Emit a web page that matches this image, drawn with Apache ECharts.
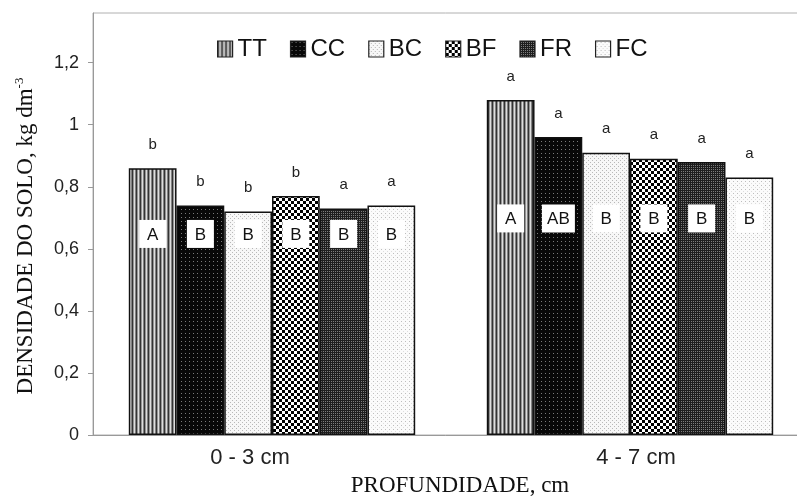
<!DOCTYPE html>
<html>
<head>
<meta charset="utf-8">
<script src="https://cdn.jsdelivr.net/npm/echarts@6/dist/echarts.min.js"></script>
<style>
  html, body { margin: 0; padding: 0; background: #fff; }
  #chart { width: 797px; height: 496px; }
</style>
</head>
<body>
<div id="chart"></div>
<script>
// Soil bulk density by depth and management system
const depths = ['0 - 3 cm', '4 - 7 cm'];
const treatments = ['TT', 'CC', 'BC', 'BF', 'FR', 'FC'];

const densityTT = [0.86, 1.08];
const densityCC = [0.74, 0.96];
const densityBC = [0.72, 0.91];
const densityBF = [0.77, 0.89];
const densityFR = [0.73, 0.88];
const densityFC = [0.74, 0.83];

// Lower-case letters: comparison between depths (per treatment)
const lowerTT = ['b', 'a'];
const lowerCC = ['b', 'a'];
const lowerBC = ['b', 'a'];
const lowerBF = ['b', 'a'];
const lowerFR = ['a', 'a'];
const lowerFC = ['a', 'a'];

// Upper-case letters: comparison between treatments (per depth)
const upper0to3 = ['A', 'B', 'B', 'B', 'B', 'B'];
const upper4to7 = ['A', 'AB', 'B', 'B', 'B', 'B'];

const yTicks = [0, 0.2, 0.4, 0.6, 0.8, 1, 1.2];

const values = [densityTT, densityCC, densityBC, densityBF, densityFR, densityFC];
const lowers = [lowerTT, lowerCC, lowerBC, lowerBF, lowerFR, lowerFC];
const uppers = [upper0to3, upper4to7];

const SANS = '"Liberation Sans", Arial, sans-serif';
const SERIF = '"Liberation Serif", "Times New Roman", serif';

// Small monochrome fill patterns, one per treatment
function tile(w, h, paint) {
  const c = document.createElement('canvas');
  c.width = w; c.height = h;
  const g = c.getContext('2d');
  paint(g);
  return { image: c, repeat: 'repeat' };
}
function px(g, color, pts) {
  g.fillStyle = color;
  pts.forEach(p => g.fillRect(p[0], p[1], p[2] || 1, p[3] || 1));
}
const patterns = [
  // TT: fine vertical stripes
  tile(4, 1, g => {
    px(g, '#333333', [[0, 0]]); px(g, '#959595', [[1, 0]]);
    px(g, '#dddddd', [[2, 0]]); px(g, '#828282', [[3, 0]]);
  }),
  // CC: black with small grey dots
  tile(4, 4, g => {
    px(g, '#080808', [[0, 0, 4, 4]]); px(g, '#7a7a7a', [[1, 1]]);
  }),
  // BC: white with light grey dots
  tile(4, 4, g => {
    px(g, '#f7f7f7', [[0, 0, 4, 4]]); px(g, '#b8b8b8', [[0, 0], [2, 2]]);
  }),
  // BF: black and white checkerboard
  tile(6, 6, g => {
    px(g, '#ffffff', [[0, 0, 6, 6]]); px(g, '#000000', [[0, 0, 3, 3], [3, 3, 3, 3]]);
  }),
  // FR: dark grey fine checker
  tile(2, 2, g => {
    px(g, '#1e1e1e', [[0, 0, 2, 2]]); px(g, '#7c7c7c', [[1, 1]]);
  }),
  // FC: white with sparse grey dots
  tile(4, 4, g => {
    px(g, '#fbfbfb', [[0, 0, 4, 4]]); px(g, '#bdbdbd', [[1, 1]]); px(g, '#dddddd', [[3, 3]]);
  })
];

const BAR_GAP_RATIO = 0.2;   // fraction of a category left empty
const BOX_LEVEL = [0.648, 0.698]; // height of the letter boxes for each depth
const DEPTH_LABEL_PAD = [[0, 44, 0, 0], [0, 0, 0, 12]]; // nudges for the depth labels

const barSeries = treatments.map((name, k) => ({
  name: name,
  type: 'bar',
  barGap: '0%',
  barCategoryGap: (BAR_GAP_RATIO * 100) + '%',
  data: values[k],
  itemStyle: { color: patterns[k], borderColor: '#111', borderWidth: 1.5 },
  label: {
    show: true,
    position: 'top',
    distance: 16,
    fontFamily: SANS,
    fontSize: 15,
    color: '#222',
    formatter: p => lowers[k][p.dataIndex]
  }
}));

// White boxes carrying the treatment-comparison letters, centred on each bar
const boxData = [];
depths.forEach((d, c) => treatments.forEach((t, k) => boxData.push([c, k, uppers[c][k]])));

const boxSeries = {
  type: 'custom',
  name: 'letters',
  silent: true,
  z: 5,
  encode: { x: 0, y: 1 },
  data: boxData,
  renderItem: (params, api) => {
    const c = api.value(0);
    const k = api.value(1);
    const txt = boxData[params.dataIndex][2];
    const centre = api.coord([c, BOX_LEVEL[c]]);
    const catW = api.size([1, 0])[0];
    const barW = catW * (1 - BAR_GAP_RATIO) / treatments.length;
    const x = centre[0] - catW * (1 - BAR_GAP_RATIO) / 2 + (k + 0.5) * barW;
    const w = 27 + (txt.length - 1) * 6;
    const h = 28;
    return {
      type: 'group',
      children: [
        { type: 'rect', shape: { x: x - w / 2, y: centre[1] - h / 2, width: w, height: h },
          style: { fill: '#fff' } },
        { type: 'text', style: { text: txt, x: x, y: centre[1] + 1, align: 'center',
          verticalAlign: 'middle', font: '17px ' + SANS, fill: '#111' } }
      ]
    };
  }
};

const chart = echarts.init(document.getElementById('chart'), null, { renderer: 'canvas' });
chart.setOption({
  animation: false,
  backgroundColor: '#fff',
  grid: {
    left: 93, top: 13, right: -12, bottom: 61,
    outerBoundsMode: 'none',
    containLabel: false,
    show: true, borderColor: '#b0b0b0', borderWidth: 1, backgroundColor: 'transparent'
  },
  legend: {
    data: treatments,
    top: 32,
    left: 212,
    icon: 'rect',
    itemWidth: 15,
    itemHeight: 16,
    itemGap: 23,
    textStyle: { fontFamily: SANS, fontSize: 24, color: '#111', padding: [0, 0, 0, 0] },
    itemStyle: { borderColor: '#222', borderWidth: 1.2 }
  },
  xAxis: {
    type: 'category',
    data: depths.map((d, i) => ({ value: d, textStyle: { padding: DEPTH_LABEL_PAD[i] } })),
    name: 'PROFUNDIDADE, cm',
    nameLocation: 'middle',
    nameGap: 39,
    nameTextStyle: { fontFamily: SERIF, fontSize: 23, color: '#111', padding: [0, 0, 0, 18] },
    axisLine: { lineStyle: { color: '#999', width: 1 } },
    axisTick: { show: false },
    axisLabel: { fontFamily: SANS, fontSize: 22, color: '#222', margin: 12 }
  },
  yAxis: {
    type: 'value',
    min: 0,
    max: 1.36,
    interval: 0.2,
    name: '{n|DENSIDADE DO SOLO, kg dm}{s|-3}',
    nameLocation: 'middle',
    nameGap: 55,
    nameTextStyle: {
      padding: [0, 24, 0, 0],
      rich: {
        n: { fontFamily: SERIF, fontSize: 23, color: '#111' },
        s: { fontFamily: SERIF, fontSize: 13, color: '#111', verticalAlign: 'top', padding: [0, 0, 12, 0] }
      }
    },
    splitLine: { show: false },
    axisLine: { show: true, lineStyle: { color: '#999', width: 1 } },
    axisTick: { show: true, length: 5, lineStyle: { color: '#999' } },
    axisLabel: {
      fontFamily: SANS, fontSize: 18, color: '#222', margin: 14,
      showMaxLabel: false,
      formatter: v => {
        const r = Math.round(v * 10) / 10;
        if (!yTicks.some(t => Math.abs(t - r) < 1e-6) || Math.abs(r - v) > 1e-6) return '';
        return String(r).replace('.', ',');
      }
    }
  },
  series: barSeries.concat([boxSeries])
});
</script>
</body>
</html>
